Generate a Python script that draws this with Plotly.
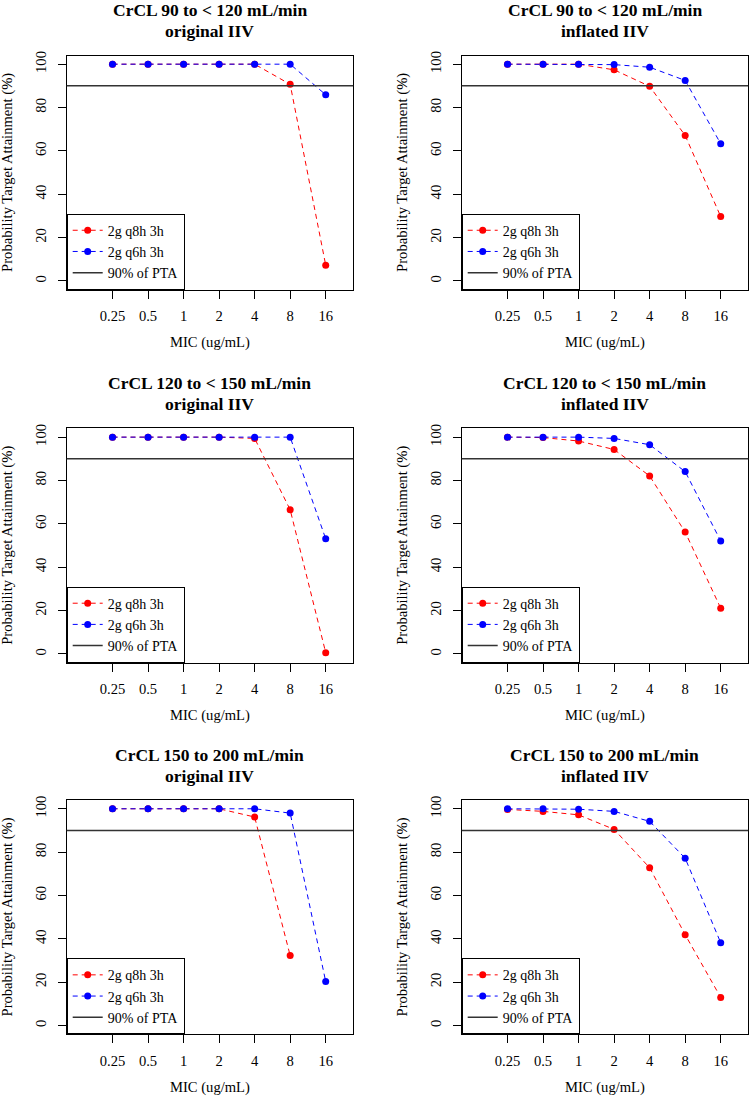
import plotly.graph_objects as go

W, H = 750, 1104

mic = [0.25, 0.5, 1, 2, 4, 8, 16]
mic_labels = ["0.25", "0.5", "1", "2", "4", "8", "16"]
y_ticks = [0, 20, 40, 60, 80, 100]
pta_target = 90

row_titles = ["CrCL 90 to &lt; 120 mL/min", "CrCL 120 to &lt; 150 mL/min", "CrCL 150 to 200 mL/min"]
col_titles = ["original IIV", "inflated IIV"]
regimen_names = ["2g q8h 3h", "2g q6h 3h"]

# PTA (%) read per panel: [q8h, q6h]
q8h_90_orig = [100, 100, 100, 100, 100, 90.7, 7.3]
q6h_90_orig = [100, 100, 100, 100, 100, 100, 85.9]
q8h_90_infl = [100, 100, 100, 97.4, 89.8, 67.1, 29.7]
q6h_90_infl = [100, 100, 100, 99.8, 98.6, 92.5, 63.3]
q8h_120_orig = [100, 100, 100, 100, 99.4, 66.5, 0.6]
q6h_120_orig = [100, 100, 100, 100, 100, 100, 53.1]
q8h_120_infl = [100, 99.8, 98.2, 94.3, 82.1, 56.2, 21.1]
q6h_120_infl = [100, 100, 100, 99.4, 96.5, 84.1, 52.1]
q8h_150_orig = [100, 100, 100, 100, 96.2, 32.3, None]
q6h_150_orig = [100, 100, 100, 100, 100, 98.0, 20.3]
q8h_150_infl = [99.7, 98.8, 97.2, 90.5, 72.8, 41.9, 13.0]
q6h_150_infl = [100, 100, 99.8, 98.8, 94.2, 77.2, 38.2]

panels = [
    (q8h_90_orig, q6h_90_orig), (q8h_90_infl, q6h_90_infl),
    (q8h_120_orig, q6h_120_orig), (q8h_120_infl, q6h_120_infl),
    (q8h_150_orig, q6h_150_orig), (q8h_150_infl, q6h_150_infl),
]
colors = ["#ff0000", "#0000ff"]

FONT = "Liberation Serif, Times New Roman, serif"
FS = 14.6

# plot boxes in pixels
box_left = [66.7, 461.7]
box_w = 286.5
box_top = [51.7, 426.0, 799.0]
box_h = 235.0


def px(x):
    return x / W


def py(y):
    return 1 - y / H


fig = go.Figure()
layout = dict(
    width=W, height=H, margin=dict(l=0, r=0, t=0, b=0),
    paper_bgcolor="white", plot_bgcolor="white",
    font=dict(family=FONT, size=FS, color="black"),
    showlegend=True,
)
shapes = []
annotations = []

for i, (q8h, q6h) in enumerate(panels):
    r, c = divmod(i, 2)
    n = "" if i == 0 else str(i + 1)
    leg = "legend" if i == 0 else f"legend{i + 1}"
    L, T = box_left[c], box_top[r]
    R, B = L + box_w, T + box_h

    for k, vals in enumerate((q8h, q6h)):
        fig.add_trace(go.Scatter(
            x=mic, y=vals, mode="lines+markers", name=regimen_names[k],
            xaxis="x" + n, yaxis="y" + n, legend=leg, legendrank=k + 1,
            line=dict(color=colors[k], width=1, dash="5px,4px"),
            marker=dict(color=colors[k], size=7),
        ))

    shapes.append(dict(
        type="line", xref=f"x{n} domain", yref="y" + n, x0=0, x1=1,
        y0=pta_target, y1=pta_target, line=dict(color="#333333", width=1.5),
        showlegend=True, legend=leg, name="90% of PTA", legendrank=3,
    ))

    layout["xaxis" + n] = dict(
        domain=[px(L), px(R)], anchor="y" + n, type="log",
        range=[-0.990, 1.437], tickvals=mic, ticktext=mic_labels,
        ticks="outside", ticklen=8, tickcolor="black", ticklabelstandoff=5,
        showline=True, linecolor="black", linewidth=1, mirror=True,
        showgrid=False, zeroline=False, tickfont=dict(size=FS),
    )
    layout["yaxis" + n] = dict(
        domain=[py(B), py(T)], anchor="x" + n, range=[-4, 104],
        tickvals=y_ticks, tickangle=-90,
        ticks="outside", ticklen=8, tickcolor="black", ticklabelstandoff=6,
        showline=True, linecolor="black", linewidth=1, mirror=True,
        showgrid=False, zeroline=False, tickfont=dict(size=FS),
    )
    layout[leg] = dict(
        x=px(L), y=py(B), xanchor="left", yanchor="bottom",
        bordercolor="black", borderwidth=1, bgcolor="white",
        font=dict(family=FONT, size=14), tracegroupgap=0,
    )

    cx = (L + R) / 2
    annotations += [
        dict(text=f"<b>{row_titles[r]}</b>", x=px(cx), y=py(T - 45.3), xref="paper", yref="paper",
             showarrow=False, font=dict(size=17.5), xanchor="center", yanchor="middle"),
        dict(text=f"<b>{col_titles[c]}</b>", x=px(cx), y=py(T - 24.3), xref="paper", yref="paper",
             showarrow=False, font=dict(size=17.5), xanchor="center", yanchor="middle"),
        dict(text="MIC (ug/mL)", x=px(cx), y=py(B + 53), xref="paper", yref="paper",
             showarrow=False, font=dict(size=FS), xanchor="center", yanchor="middle"),
        dict(text="Probability Target Attainment (%)", x=px(L - 59.4), y=py((T + B) / 2),
             xref="paper", yref="paper", textangle=-90,
             showarrow=False, font=dict(size=FS), xanchor="center", yanchor="middle"),
    ]

layout["shapes"] = shapes
layout["annotations"] = annotations
fig.update_layout(**layout)

# page body has a default margin; drop it so the figure sits at the window origin
fig.write_html("out.html", config={"displayModeBar": False},
               post_script="document.body.style.margin = '0';")
